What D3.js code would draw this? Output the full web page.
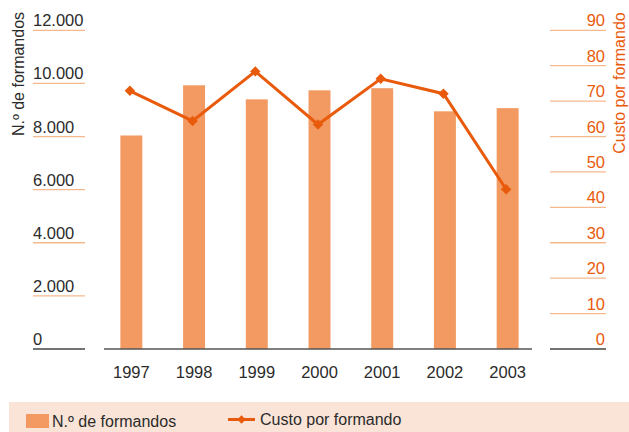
<!DOCTYPE html>
<html>
<head>
<meta charset="utf-8">
<script src="https://cdn.jsdelivr.net/npm/d3@7"></script>
<style>
  body { margin: 0; background: #fff; }
  text { font-family: "Liberation Sans", Arial, sans-serif; }
</style>
</head>
<body>
<svg id="chart" width="629" height="432"></svg>
<script>
// data
var years = ["1997", "1998", "1999", "2000", "2001", "2002", "2003"];
var formandos = [8040, 9930, 9400, 9740, 9820, 8950, 9070];
var custo = [72.9, 64.4, 78.4, 63.4, 76.3, 72.1, 45.1];
var leftTicks = [0, 2000, 4000, 6000, 8000, 10000, 12000];
var rightTicks = [0, 10, 20, 30, 40, 50, 60, 70, 80, 90];

var BAR = "#f29a62", LINE = "#e95b0c", GRID = "#f6b98f", DARK = "#2b2b2b";

var svg = d3.select("#chart");

var x = d3.scaleBand()
    .domain(years)
    .range([100, 539])
    .paddingInner(0.65)
    .paddingOuter(0.325);

var yL = d3.scaleLinear().domain([0, 12000]).range([349, 30.3]);
var yR = d3.scaleLinear().domain([0, 90]).range([349, 30.3]);

var fmt = function(d){ return d3.format(",")(d).replace(/,/g, "."); };

// left axis: short lines with labels above
var lg = svg.append("g").selectAll("g")
    .data(leftTicks).enter().append("g");
lg.append("line")
    .attr("x1", 33).attr("x2", 85)
    .attr("y1", function(d){ return yL(d); })
    .attr("y2", function(d){ return yL(d); })
    .attr("stroke", function(d){ return d == 0 ? "#444" : GRID; })
    .attr("stroke-width", 1.3);
lg.append("text")
    .attr("x", 33)
    .attr("y", function(d){ return yL(d) - 4; })
    .attr("font-size", 16.5)
    .attr("fill", DARK)
    .text(fmt);

// right axis
var rg = svg.append("g").selectAll("g")
    .data(rightTicks).enter().append("g");
rg.append("line")
    .attr("x1", 550).attr("x2", 606)
    .attr("y1", function(d){ return yR(d); })
    .attr("y2", function(d){ return yR(d); })
    .attr("stroke", function(d){ return d == 0 ? "#444" : GRID; })
    .attr("stroke-width", 1.3);
rg.append("text")
    .attr("x", 605)
    .attr("y", function(d){ return yR(d) - 4; })
    .attr("text-anchor", "end")
    .attr("font-size", 16.5)
    .attr("fill", LINE)
    .text(function(d){ return d; });

// axis titles
svg.append("text")
    .attr("transform", "translate(24,74) rotate(-90)")
    .attr("text-anchor", "middle")
    .attr("font-size", 16)
    .attr("fill", DARK)
    .text("N.º de formandos");
svg.append("text")
    .attr("transform", "translate(625,83) rotate(-90)")
    .attr("text-anchor", "middle")
    .attr("font-size", 16)
    .attr("fill", LINE)
    .text("Custo por formando");

// bars
svg.append("g").selectAll("rect")
    .data(formandos).enter().append("rect")
    .attr("x", function(d, i){ return x(years[i]); })
    .attr("width", x.bandwidth())
    .attr("y", function(d){ return yL(d); })
    .attr("height", function(d){ return yL(0) - yL(d); })
    .attr("fill", BAR);

// x axis line + labels
svg.append("line")
    .attr("x1", 104).attr("x2", 532)
    .attr("y1", 349).attr("y2", 349)
    .attr("stroke", "#555").attr("stroke-width", 1.3);
svg.append("g").selectAll("text")
    .data(years).enter().append("text")
    .attr("x", function(d){ return x(d) + x.bandwidth() / 2; })
    .attr("y", 378)
    .attr("text-anchor", "middle")
    .attr("font-size", 16.5)
    .attr("fill", DARK)
    .text(function(d){ return d; });

// cost line
var line = d3.line()
    .x(function(d, i){ return x(years[i]) + x.bandwidth() / 2 - 1.5; })
    .y(function(d){ return yR(d); });
svg.append("path")
    .datum(custo)
    .attr("d", line)
    .attr("fill", "none")
    .attr("stroke", LINE)
    .attr("stroke-width", 3);
svg.append("g").selectAll("path")
    .data(custo).enter().append("path")
    .attr("transform", function(d, i){
        return "translate(" + (x(years[i]) + x.bandwidth() / 2 - 1.5) + "," + yR(d) + ")"; })
    .attr("d", d3.symbol().type(d3.symbolDiamond2).size(70))
    .attr("fill", LINE);

// legend
svg.append("rect")
    .attr("x", 9).attr("y", 402)
    .attr("width", 620).attr("height", 30)
    .attr("fill", "#f9e4d7");
svg.append("rect")
    .attr("x", 26).attr("y", 414)
    .attr("width", 23).attr("height", 14)
    .attr("fill", BAR);
svg.append("text")
    .attr("x", 52).attr("y", 427)
    .attr("font-size", 16)
    .attr("fill", DARK)
    .text("N.º de formandos");
svg.append("line")
    .attr("x1", 228).attr("x2", 255)
    .attr("y1", 419.5).attr("y2", 419.5)
    .attr("stroke", LINE).attr("stroke-width", 3);
svg.append("path")
    .attr("transform", "translate(241.5,419.5)")
    .attr("d", d3.symbol().type(d3.symbolDiamond2).size(45))
    .attr("fill", LINE);
svg.append("text")
    .attr("x", 260).attr("y", 425)
    .attr("font-size", 16)
    .attr("fill", DARK)
    .text("Custo por formando");
</script>
</body>
</html>
